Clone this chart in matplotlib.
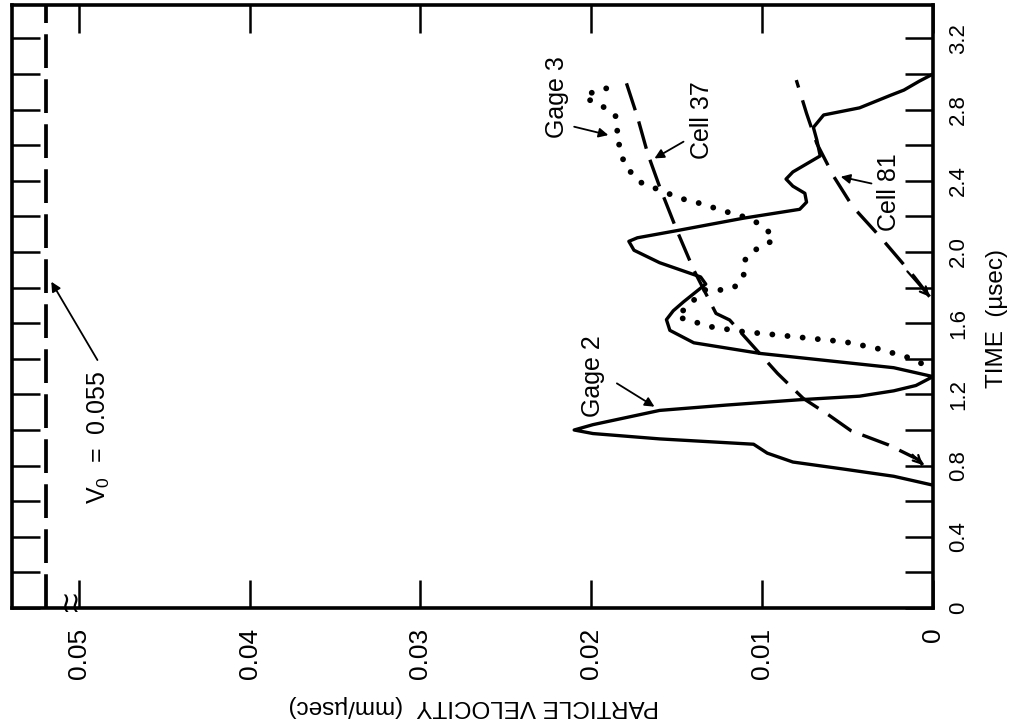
import numpy as np
import matplotlib.pyplot as plt

plt.rcParams['font.family'] = ['Liberation Sans', 'DejaVu Sans']
plt.rcParams['mathtext.default'] = 'regular'

# values: particle velocity (mm/usec) vs time (usec)
gage2_t = [0.69, 0.74, 0.78, 0.82, 0.87, 0.92, 0.95, 0.98, 1.00, 1.03, 1.11, 1.14, 1.17,
           1.19, 1.22, 1.25, 1.30, 1.35, 1.39, 1.43, 1.49, 1.56, 1.62, 1.67, 1.72, 1.82,
           1.86, 1.94, 2.01, 2.06, 2.08, 2.12, 2.19, 2.24, 2.28, 2.33, 2.37, 2.41, 2.45,
           2.54, 2.63, 2.70, 2.77, 2.81, 2.88, 2.91, 2.96, 3.00]
gage2_v = [0.0000, 0.0023, 0.0052, 0.0082, 0.0097, 0.0105, 0.0160, 0.0199, 0.0210, 0.0199,
           0.0160, 0.0121, 0.0078, 0.0043, 0.0023, 0.0010, 0.0000, 0.0023, 0.0062, 0.0101,
           0.0140, 0.0154, 0.0156, 0.0152, 0.0146, 0.0133, 0.0136, 0.0160, 0.0175, 0.0178,
           0.0173, 0.0150, 0.0111, 0.0078, 0.0074, 0.0075, 0.0082, 0.0086, 0.0082, 0.0066,
           0.0068, 0.0070, 0.0064, 0.0043, 0.0025, 0.0017, 0.0008, 0.0000]

gage3_t = [1.375, 1.403, 1.459, 1.496, 1.515, 1.534, 1.552, 1.58, 1.637, 1.71, 1.787, 1.787,
           1.805, 1.852, 1.955, 1.993, 2.030, 2.067, 2.124, 2.161, 2.199, 2.232, 2.270,
           2.302, 2.348, 2.391, 2.480, 2.539, 2.59, 2.648, 2.704, 2.77, 2.81, 2.845, 2.863,
           2.90, 2.92, 2.976]
gage3_v = [0.0007, 0.0013, 0.0033, 0.0052, 0.0072, 0.0091, 0.0111, 0.0130, 0.0150, 0.0142,
           0.0134, 0.0123, 0.0116, 0.0111, 0.0110, 0.0107, 0.0101, 0.0093, 0.0097, 0.0102,
           0.0111, 0.0123, 0.0135, 0.0148, 0.0160, 0.0171, 0.0180, 0.0182, 0.0183, 0.0186,
           0.0184, 0.0186, 0.0192, 0.0198, 0.0204, 0.0199, 0.0191, 0.0197]

cell37_t = [0.803, 0.831, 0.916, 0.996, 1.084, 1.178, 1.318, 1.468, 1.618, 1.655, 1.899,
            2.124, 2.367, 2.554, 2.760, 2.966]
cell37_v = [0.0006, 0.0008, 0.0026, 0.0048, 0.0061, 0.0076, 0.0091, 0.0105, 0.0119, 0.0127,
            0.0140, 0.0150, 0.0160, 0.0167, 0.0173, 0.0180]

cell81_t = [1.749, 1.861, 2.086, 2.255, 2.423, 2.610, 2.779, 2.966]
cell81_v = [0.0002, 0.0011, 0.0031, 0.0047, 0.0058, 0.0068, 0.0074, 0.0080]

v0 = 0.055

vel_ticks = [0, 0.01, 0.02, 0.03, 0.04, 0.05]
vel_labels = ['0', '0.01', '0.02', '0.03', '0.04', '0.05']
time_ticks = [0, 0.4, 0.8, 1.2, 1.6, 2.0, 2.4, 2.8, 3.2]
time_labels = ['0', '0.4', '0.8', '1.2', '1.6', '2.0', '2.4', '2.8', '3.2']


def brk(v):
    # axis is broken above 0.05, squeeze those values
    return v if v <= 0.05 else 0.05 + (v - 0.05) * 0.38


fig = plt.figure(figsize=(10.17, 7.23), dpi=100)
ax = fig.add_axes([0.0118, 0.1591, 0.9056, 0.834])

ax.plot(gage2_v, gage2_t, color='k', lw=2.4, solid_joinstyle='round')
ax.plot(gage3_v, gage3_t, color='k', lw=4.2, linestyle=(0, (0.01, 2.6)),
        dash_capstyle='round')
ax.plot(cell37_v, cell37_t, color='k', lw=2.4, linestyle=(0, (8.5, 3.5)))
ax.plot(cell81_v, cell81_t, color='k', lw=2.4, linestyle=(0, (8.5, 4)))
ax.axvline(brk(v0), color='k', lw=2.7, linestyle=(0, (9, 3)))

# little arrow heads at the start of the computed curves
for vv, tt in [(cell37_v, cell37_t), (cell81_v, cell81_t)]:
    ax.annotate('', xy=(vv[0], tt[0]), xytext=(vv[1] + 0.0004, tt[1] + 0.03),
                arrowprops=dict(arrowstyle='->', color='k', lw=1.6, shrinkA=0, shrinkB=0,
                                mutation_scale=14))

arrow = dict(arrowstyle='-|>', color='k', lw=1.3, mutation_scale=14, shrinkA=0, shrinkB=0)
lab_fs = 18

ax.text(0.0488, 0.961, 'V$_0$  =  0.055', rotation=90, ha='center', va='center',
        fontsize=lab_fs)
ax.annotate('', xy=(0.0516, 1.833), xytext=(0.0489, 1.393), arrowprops=arrow)

ax.text(0.0199, 1.30, 'Gage 2', rotation=90, ha='center', va='center', fontsize=lab_fs)
ax.annotate('', xy=(0.0163, 1.131), xytext=(0.0185, 1.262), arrowprops=arrow)

ax.text(0.0220, 2.871, 'Gage 3', rotation=90, ha='center', va='center', fontsize=lab_fs)
ax.annotate('', xy=(0.0190, 2.657), xytext=(0.0210, 2.704), arrowprops=arrow)

ax.text(0.0135, 2.742, 'Cell 37', rotation=90, ha='center', va='center', fontsize=lab_fs)
ax.annotate('', xy=(0.0163, 2.526), xytext=(0.0146, 2.62), arrowprops=arrow)

ax.text(0.0026, 2.339, 'Cell 81', rotation=90, ha='center', va='center', fontsize=lab_fs)
ax.annotate('', xy=(0.0054, 2.423), xytext=(0.0036, 2.385), arrowprops=arrow)

# break mark on the velocity axis
ax.text(0.0505, 0.02, '\u2240\u2240', fontsize=20, ha='center', va='center',
        family='DejaVu Sans')

ax.set_xlim(0.0539, 0)
ax.set_ylim(0, 3.388)
ax.set_xticks(vel_ticks)
ax.set_xticklabels(vel_labels)
ax.set_yticks(time_ticks)
ax.set_yticklabels(time_labels)
ax.set_yticks(np.arange(0.2, 3.3, 0.4), minor=True)

ax.tick_params(which='both', direction='in', length=20, width=1.8, top=True, bottom=True,
               left=True, right=True, labelleft=False, labelright=True)
ax.tick_params(axis='x', labelsize=19, labelrotation=90, pad=14)
ax.tick_params(axis='y', labelsize=16, labelrotation=90, pad=11)
for lab in ax.get_yticklabels():
    lab.set_va('center')
for s in ax.spines.values():
    s.set_linewidth(2.6)

fig.text(0.466, 0.0235, 'PARTICLE VELOCITY  (mm/\u00b5sec)', rotation=180, ha='center',
         va='center', fontsize=17.5)
fig.text(0.980, 0.560, 'TIME  (\u00b5sec)', rotation=90, ha='center', va='center',
         fontsize=17.5)

fig.savefig('out.png', dpi=100)
